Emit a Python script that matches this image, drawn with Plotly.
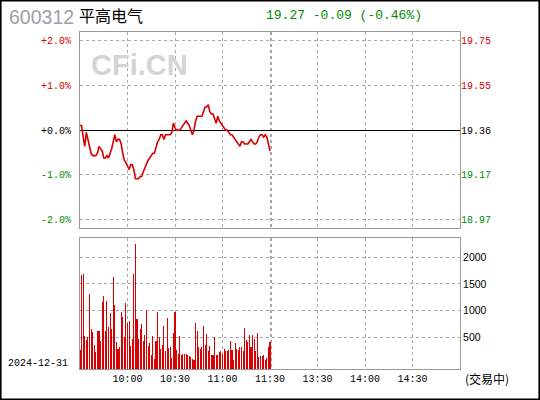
import plotly.graph_objects as go

# ---------------- data ----------------
stock_code = "600312"
stock_name = "平高电气"
quote_text = "19.27 -0.09 (-0.46%)"
trade_date = "2024-12-31"
status_text = "(交易中)"
prev_close = 19.36

# minute prices from 9:30 (one per minute)
prices = [19.38, 19.38, 19.33, 19.29, 19.35, 19.32, 19.30, 19.26, 19.25, 19.25,
          19.25, 19.26, 19.29, 19.28, 19.27, 19.24, 19.24, 19.25, 19.24, 19.26,
          19.28, 19.31, 19.34, 19.31, 19.32, 19.32, 19.30, 19.26, 19.23, 19.22,
          19.20, 19.19, 19.21, 19.21, 19.19, 19.15, 19.15, 19.15, 19.16, 19.16,
          19.18, 19.20, 19.22, 19.23, 19.24, 19.25, 19.26, 19.26, 19.28, 19.31,
          19.32, 19.34, 19.34, 19.32, 19.34, 19.34, 19.34, 19.34, 19.35, 19.39,
          19.37, 19.36, 19.36, 19.36, 19.37, 19.38, 19.39, 19.40, 19.39, 19.38,
          19.36, 19.34, 19.36, 19.40, 19.42, 19.42, 19.42, 19.42, 19.44, 19.46,
          19.46, 19.47, 19.44, 19.43, 19.43, 19.41, 19.39, 19.42, 19.40, 19.39,
          19.38, 19.37, 19.36, 19.36, 19.35, 19.34, 19.34, 19.33, 19.32, 19.31,
          19.30, 19.29, 19.31, 19.31, 19.30, 19.30, 19.30, 19.31, 19.32, 19.31,
          19.30, 19.30, 19.31, 19.33, 19.34, 19.34, 19.33, 19.34, 19.33, 19.30,
          19.27]

volumes = [262, 1669, 1688, 512, 450, 494, 1312, 656, 588, 356,
           212, 619, 619, 431, 1169, 1275, 606, 1181, 681, 944,
           656, 1631, 1106, 400, 281, 306, 975, 869, 494, 1144,
           756, 794, 325, 469, 1688, 2250, 844, 469, 650, 750,
           419, 544, 1012, 325, 394, 156, 525, 94, 419, 975,
           506, 281, 356, 712, 231, 862, 294, 319, 112, 581,
           969, 262, 188, 525, 156, 188, 188, 188, 169, 150,
           125, 94, 75, 769, 619, 319, 281, 319, 712, 356,
           562, 244, 338, 156, 169, 506, 169, 156, 225, 244,
           188, 281, 244, 244, 256, 425, 262, 75, 381, 281,
           262, 319, 319, 244, 669, 450, 400, 544, 319, 544,
           456, 244, 575, 131, 150, 150, 169, 75, 112, 319,
           412]

pct_ticks = [2, 1, 0, -1, -2]
pct_labels = ["+2.0%", "+1.0%", "+0.0%", "-1.0%", "-2.0%"]
price_labels = ["19.75", "19.55", "19.36", "19.17", "18.97"]
vol_ticks = [500, 1000, 1500, 2000]
vol_labels = ["500", "1000", "1500", "2000"]
time_ticks = [30, 60, 90, 120, 121, 150, 180, 210]   # minutes after 9:30
time_labels = ["10:00", "10:30", "11:00", "11:30", "", "13:30", "14:00", "14:30"]

# ---------------- styling ----------------
RED = "#d80000"
GREEN = "#008c00"
GRID = "#a8a8a8"
FRAME = "#999999"
MONO = "Liberation Mono, DejaVu Sans Mono, monospace"
PCT_RANGE = 2.19
VOL_RANGE = [-100, 2357]

W, H = 540, 400
ML, MR, MT, MB = 80, 80, 32, 31
PW, PH = W - ML - MR, H - MT - MB


def px(x):
    return (x - ML) / PW


def py(y):
    return (H - MB - y) / PH


def tick_color(v):
    return RED if v > 0 else (GREEN if v < 0 else "black")


minutes = list(range(len(prices)))
pct_tick_text = [f'<span style="color:{tick_color(v)}">{t}</span>' for v, t in zip(pct_ticks, pct_labels)]
price_tick_text = [f'<span style="color:{tick_color(v)}">{t}</span>' for v, t in zip(pct_ticks, price_labels)]
price_tick_vals = [prev_close * (1 + v / 100) for v in pct_ticks]

fig = go.Figure()

# invisible trace to keep the percent axis alive
fig.add_trace(go.Scatter(x=[minutes[0]], y=[0], mode="markers", marker=dict(opacity=0),
                         xaxis="x", yaxis="y", hoverinfo="skip", showlegend=False))
# price line on the right (price) axis
fig.add_trace(go.Scatter(x=minutes, y=prices, mode="lines", line=dict(color=RED, width=1.6),
                         xaxis="x", yaxis="y2", showlegend=False))
# volume bars drawn up from the bottom of the volume panel
fig.add_trace(go.Bar(x=minutes, y=[v - VOL_RANGE[0] for v in volumes], base=VOL_RANGE[0],
                     marker=dict(color=RED, line=dict(width=0)), width=0.64,
                     xaxis="x2", yaxis="y3", showlegend=False))

main_bottom = py(228.3)
vol_top = py(238.3)

common_x = dict(range=[0, 240], tickvals=time_ticks, showgrid=True, gridcolor=GRID,
                griddash="dot", gridwidth=1, showline=True, linecolor=FRAME, linewidth=1,
                mirror=True, zeroline=False, ticks="")

fig.update_layout(
    width=W, height=H,
    margin=dict(l=ML, r=MR, t=MT, b=MB),
    paper_bgcolor="white", plot_bgcolor="white",
    bargap=0,
    xaxis=dict(domain=[0, 1], anchor="y", showticklabels=False, **common_x),
    xaxis2=dict(domain=[0, 1], anchor="y3", matches="x", ticktext=time_labels,
                tickfont=dict(family=MONO, size=10, color="black"), ticklabelstandoff=0,
                **common_x),
    yaxis=dict(domain=[main_bottom, 1], range=[-PCT_RANGE, PCT_RANGE], tickvals=pct_ticks,
               ticktext=pct_tick_text, tickfont=dict(family=MONO, size=10),
               showgrid=True, gridcolor=GRID, griddash="dot", gridwidth=1,
               zeroline=True, zerolinecolor="black", zerolinewidth=1.3,
               showline=True, linecolor=FRAME, linewidth=1, mirror=True,
               ticks="", ticklabelstandoff=6, fixedrange=True),
    yaxis2=dict(overlaying="y", side="right", anchor="x",
                range=[prev_close * (1 - PCT_RANGE / 100), prev_close * (1 + PCT_RANGE / 100)],
                tickvals=price_tick_vals, ticktext=price_tick_text,
                tickfont=dict(family=MONO, size=10), showgrid=False, zeroline=False,
                ticks="", ticklabelstandoff=0),
    yaxis3=dict(domain=[0, vol_top], anchor="x2", side="right", range=VOL_RANGE,
                tickvals=vol_ticks, ticktext=vol_labels,
                tickfont=dict(family="Liberation Sans, Arial, sans-serif", size=10.5, color="black"),
                showgrid=True, gridcolor=GRID, griddash="dot", gridwidth=1, zeroline=False,
                showline=True, linecolor=FRAME, linewidth=1, mirror=True,
                ticks="", ticklabelstandoff=0),
)

# outer black frame
fig.add_shape(type="rect", xref="paper", yref="paper",
              x0=px(0.8), x1=px(W - 0.8), y0=py(H - 0.8), y1=py(0.8),
              line=dict(color="black", width=1.6), layer="above")

annos = [
    dict(text=stock_code, x=px(7), y=py(17), xanchor="left", yanchor="middle",
         font=dict(family="Liberation Sans, Arial, sans-serif", size=19.5, color="#a0a0a8")),
    dict(text=stock_name, x=px(77), y=py(15), xanchor="left", yanchor="middle",
         font=dict(family="Noto Sans CJK SC", size=16, color="black")),
    dict(text=quote_text, x=px(264), y=py(15.5), xanchor="left", yanchor="middle",
         font=dict(family=MONO, size=13, color=GREEN)),
    dict(text="CFi.CN", x=px(139), y=py(65), xanchor="center", yanchor="middle",
         font=dict(family="Liberation Sans, Arial, sans-serif", size=29, color="#d4d4d4",
                   weight="bold")),
    dict(text=trade_date, x=px(6), y=py(363), xanchor="left", yanchor="middle",
         font=dict(family=MONO, size=10, color="black")),
    dict(text=status_text, x=px(463), y=py(379), xanchor="left", yanchor="middle",
         font=dict(family="Noto Sans CJK SC", size=12, color="black")),
]
for a in annos:
    fig.add_annotation(xref="paper", yref="paper", showarrow=False, **a)

fig.write_html(
    "out.html",
    config={"displayModeBar": False, "staticPlot": True},
    post_script="document.body.style.margin='0';document.body.style.overflow='hidden';",
)
